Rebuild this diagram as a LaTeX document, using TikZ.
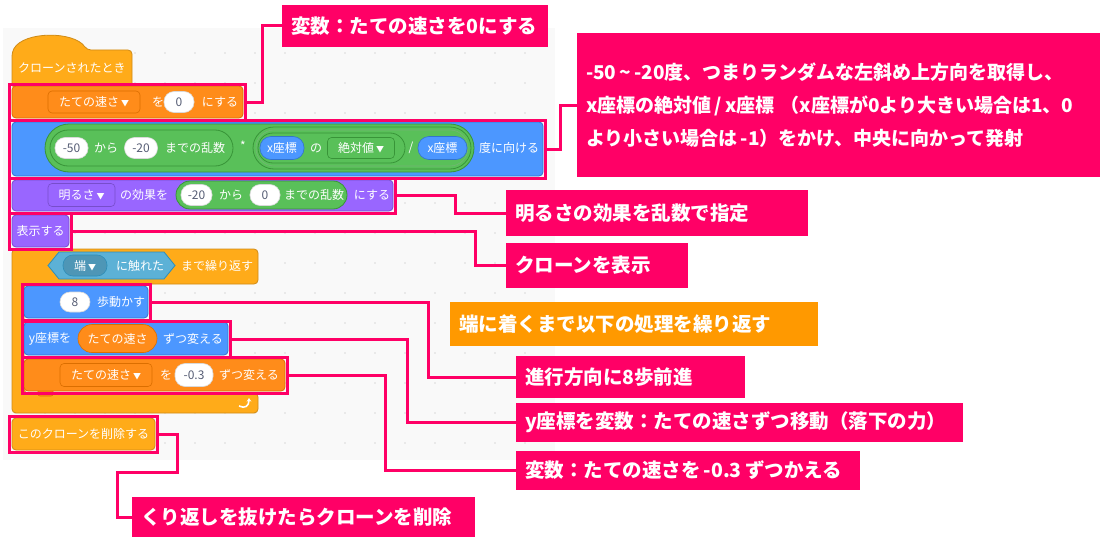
\documentclass[tikz,border=0pt]{standalone}
\usepackage{fontspec}
\setmainfont{Noto Sans CJK JP}
\usetikzlibrary{arrows.meta}
\definecolor{pk}{HTML}{FF0066}
\definecolor{bg}{HTML}{F9F9F9}
\definecolor{dotc}{HTML}{DADADA}
\definecolor{ctl}{HTML}{FFAB19}
\definecolor{ctlb}{HTML}{CF8B17}
\definecolor{var}{HTML}{FF8C1A}
\definecolor{varb}{HTML}{DB6E00}
\definecolor{mot}{HTML}{4C97FF}
\definecolor{motb}{HTML}{3373CC}
\definecolor{lks}{HTML}{9966FF}
\definecolor{lksb}{HTML}{774DCB}
\definecolor{opr}{HTML}{59C059}
\definecolor{oprb}{HTML}{389438}
\definecolor{sns}{HTML}{5CB1D6}
\definecolor{snsb}{HTML}{2E8EB8}
\definecolor{numc}{HTML}{575E75}
\definecolor{orc}{HTML}{FF9900}
\newcommand{\ddarrow}{\,{\fontsize{8}{8}\selectfont ▼}}
\tikzset{
  blk/.style={line width=0.8pt, rounded corners=4pt},
  btxt/.style={text=white, font=\fontsize{12}{14}\selectfont, inner sep=0pt},
  wov/.style={fill=white, draw=black!15, line width=0.6pt, rounded corners=10pt, text=numc, font=\fontsize{12}{14}\selectfont, inner sep=0pt},
  bov/.style={fill=mot, draw=motb, line width=0.6pt, rounded corners=11pt, text=white, font=\fontsize{12}{14}\selectfont, inner sep=0pt},
  pill/.style={fill=opr, draw=oprb, line width=0.8pt, inner sep=0pt},
  dd/.style={btxt, line width=0.6pt, rounded corners=4pt},
  hl/.style={draw=pk, line width=3pt, inner sep=0pt, outer sep=0pt, anchor=north west},
  conn/.style={draw=pk, line width=3pt},
  co/.style={fill=pk, text=white, font=\bfseries\fontsize{19.5}{23}\selectfont, anchor=north west, inner xsep=9pt, inner ysep=0pt, outer sep=0pt, align=left},
}
\begin{document}
\begin{tikzpicture}[x=1pt,y=-1pt]
\useasboundingbox (0,0) rectangle (1110,543);
\fill[white] (0,0) rectangle (1110,543);
\fill[bg] (3,28) rectangle (555,460);
\foreach \x in {15,45,...,525} \foreach \y in {53,83,...,443} \fill[dotc] (\x,\y) circle (0.9pt);

% hat block
\draw[blk, fill=ctl, draw=ctlb] (12,88) -- (12,52) .. controls (24,31) and (74,31) .. (87,50) -- (132,50) -- (132,88) -- cycle;
\node[btxt, anchor=west] (hatT) at (18,68) {クローンされたとき};

% block 1: set variable
\draw[blk, fill=var, draw=varb] (12,86) rectangle (243,118);
\node[dd, fill=var, draw=varb, minimum width=92pt, minimum height=22pt] (b1d) at (94,102) {たての速さ\ddarrow};
\node[btxt] (b1a) at (158,102) {を};
\node[wov, minimum width=30pt, minimum height=21pt] (b1o) at (179,102) {0};
\node[btxt] (b1b) at (220,102) {にする};

% block 2: point in direction
\draw[blk, fill=mot, draw=motb] (12,122) rectangle (543,176);
\node[pill, minimum width=429pt, minimum height=48pt, rounded corners=24pt] (mul) at (259.5,148) {};
\node[pill, minimum width=183pt, minimum height=36pt, rounded corners=18pt] (rnd) at (141.5,148) {};
\node[wov, minimum width=33pt, minimum height=21pt] (n50) at (71.5,148) {-50};
\node[btxt] (b2a) at (106,148) {から};
\node[wov, minimum width=33pt, minimum height=21pt] (n20) at (141,148) {-20};
\node[btxt] (b2b) at (195,148) {までの乱数};
\node[btxt] (b2c) at (243,146) {*};
\node[pill, minimum width=218pt, minimum height=42pt, rounded corners=21pt] (divp) at (362,148) {};
\node[draw=oprb!70, line width=0.6pt, minimum width=212pt, minimum height=36pt, rounded corners=18pt, inner sep=0pt] (divr) at (362,148) {};
\node[pill, minimum width=147pt, minimum height=30pt, rounded corners=15pt] (absp) at (331.5,148) {};
\node[bov, minimum width=44pt, minimum height=23pt] (xz1) at (282,148) {x座標};
\node[btxt] (b2d) at (316,148) {の};
\node[dd, fill=opr, draw=oprb, minimum width=67pt, minimum height=21pt] (absd) at (361,148) {絶対値\ddarrow};
\node[btxt] (b2e) at (411,148) {/};
\node[bov, minimum width=49pt, minimum height=23pt] (xz2) at (442.5,148) {x座標};
\node[btxt] (b2f) at (509,148) {度に向ける};

% block 3: set effect
\draw[blk, fill=lks, draw=lksb] (12,180) rectangle (393,211);
\node[dd, fill=lks, draw=lksb, minimum width=67pt, minimum height=23pt] (b3d) at (81.5,195) {明るさ\ddarrow};
\node[btxt] (b3a) at (144,195) {の効果を};
\node[pill, minimum width=171pt, minimum height=28pt, rounded corners=14pt] (rnd2) at (261.5,195) {};
\node[wov, minimum width=31pt, minimum height=21pt] (m20) at (196.5,195) {-20};
\node[btxt] (b3b) at (231,195) {から};
\node[wov, minimum width=30pt, minimum height=21pt] (z0) at (265,195) {0};
\node[btxt] (b3c) at (314,195) {までの乱数};
\node[btxt] (b3e) at (372,195) {にする};

% block 4: show
\draw[blk, fill=lks, draw=lksb] (12,215) rectangle (69,247);
\node[btxt] (b4) at (40.5,231) {表示する};

% loop
\draw[blk, fill=ctl, draw=ctlb] (12,249) -- (258,249) -- (258,284) -- (24,284) -- (24,393) -- (258,393) -- (258,413) -- (12,413) -- cycle;
\draw[fill=sns, draw=snsb, line width=0.8pt] (48,265.5) -- (59,252) -- (164,252) -- (175,265.5) -- (164,279) -- (59,279) -- cycle;
\node[fill=sns!85!black, draw=snsb, line width=0.6pt, rounded corners=10pt, minimum width=44pt, minimum height=21pt, text=white, font=\fontsize{12}{14}\selectfont, inner sep=0pt] (edge) at (85,265.5) {端\ddarrow};
\node[btxt] (lpa) at (140,265.5) {に触れた};
\node[btxt] (lpb) at (217,266) {まで繰り返す};
\draw[white, line width=1.6pt, -{Stealth[length=3.5pt,width=4.5pt]}] (239,406) .. controls (245,409) and (249,406) .. (249,398);
\draw[fill=var, draw=varb, line width=0.6pt, rounded corners=2pt] (38,390) -- (38,396) -- (53,396) -- (53,390);

% block 6: move
\draw[blk, fill=mot, draw=motb] (24,286) rectangle (148,318);
\node[wov, minimum width=30pt, minimum height=20pt] (n8) at (75,302) {8};
\node[btxt] (b6) at (121,302) {歩動かす};

% block 7: change y
\draw[blk, fill=mot, draw=motb] (24,322) rectangle (228,355);
\node[btxt] (b7a) at (50,338.5) {y座標を};
\node[fill=var, draw=varb, line width=0.6pt, rounded corners=14pt, minimum width=79pt, minimum height=28pt, text=white, font=\fontsize{12}{14}\selectfont, inner sep=0pt] (vov) at (117.5,338.5) {たての速さ};
\node[btxt] (b7b) at (193,338.5) {ずつ変える};

% block 8: change variable
\draw[blk, fill=var, draw=varb] (24,359) rectangle (285,391);
\node[dd, fill=var, draw=varb, minimum width=92pt, minimum height=23pt] (b8d) at (106,375) {たての速さ\ddarrow};
\node[btxt] (b8a) at (166,375) {を};
\node[wov, minimum width=38pt, minimum height=23pt] (n03) at (194,375) {-0.3};
\node[btxt] (b8b) at (249,375) {ずつ変える};

% block 9: delete clone
\draw[blk, fill=ctl, draw=ctlb] (12,418) rectangle (155,450);
\node[btxt] (b9) at (83.5,434) {このクローンを削除する};

% highlight rectangles
\node[hl, minimum width=236pt, minimum height=36pt] (r1) at (9,84) {};
\node[hl, minimum width=536pt, minimum height=58pt] (r2) at (9,120) {};
\node[hl, minimum width=386pt, minimum height=35pt] (r3) at (9,178) {};
\node[hl, minimum width=62pt, minimum height=36pt] (r4) at (9,213) {};
\node[hl, minimum width=128pt, minimum height=36pt] (r6) at (22,284) {};
\node[hl, minimum width=208pt, minimum height=36pt] (r7) at (22,321) {};
\node[hl, minimum width=265pt, minimum height=36pt] (r8) at (22,357) {};
\node[hl, minimum width=148pt, minimum height=36pt] (r9) at (9,416) {};

% callouts
\node[co, minimum width=266pt, minimum height=42pt, text width=248pt] (c1) at (282,5) {変数：たての速さを0にする};
\node[co, minimum width=523pt, minimum height=144pt, text width=505pt, font=\bfseries\fontsize{19}{33}\selectfont] (c2) at (577,33) {-50\,\textasciitilde\,-20度、つまりランダムな左斜め上方向を取得し、\\x座標の絶対値\,/\,x座標 （x座標が0より大きい場合は1、0\\より小さい場合は\,-1）をかけ、中央に向かって発射};
\node[co, minimum width=302pt, minimum height=46pt, text width=284pt] (c3) at (506,190) {明るさの効果を乱数で指定};
\node[co, minimum width=182pt, minimum height=45pt, text width=164pt] (c4) at (506,243) {クローンを表示};
\node[co, fill=orc, minimum width=368pt, minimum height=44pt, text width=350pt] (c5) at (450,302) {端に着くまで以下の処理を繰り返す};
\node[co, minimum width=229pt, minimum height=42pt, text width=211pt] (c6) at (516,356) {進行方向に8歩前進};
\node[co, minimum width=447pt, minimum height=39pt, text width=429pt] (c7) at (516,403) {y座標を変数：たての速さずつ移動（落下の力）};
\node[co, minimum width=344pt, minimum height=39pt, text width=326pt] (c8) at (516,451) {変数：たての速さを\,-0.3\,ずつかえる};
\node[co, minimum width=343pt, minimum height=40pt, text width=325pt] (c9) at (132,497) {くり返しを抜けたらクローンを削除};

% connectors
\draw[conn] (r1.east) -- ++(17,0) |- (c1.west);
\draw[conn] (r2.east) -- ++(15,0) |- (c2.west);
\draw[conn] (r3.east) -- ++(60,0) |- (c3.west);
\draw[conn] (r4.east) -- ++(404,0) |- (c4.west);
\draw[conn] (r6.east) -- ++(278,0) |- (c6.west);
\draw[conn] (r7.east) -- ++(177,0) |- (c7.west);
\draw[conn] (r8.east) -- ++(98,0) |- (c8.west);
\draw[conn] (r9.east) -- ++(20,0) -- ++(0,38) -- ++(-60,0) |- (c9.west);
\end{tikzpicture}
\end{document}
